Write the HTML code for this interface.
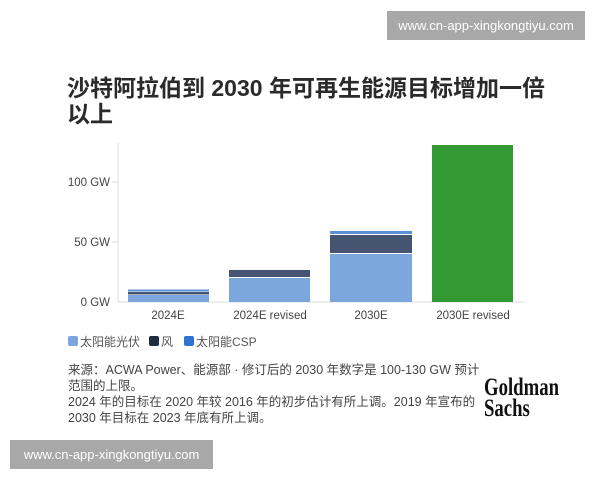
<!DOCTYPE html>
<html><head><meta charset="utf-8"><style>
body{margin:0;width:600px;height:480px;background:#fff;position:relative;overflow:hidden;font-family:"Liberation Sans","Noto Sans CJK SC",sans-serif;color:#333}
.wm{position:absolute;background:#a8a8a8;color:#fff;font-size:13px;display:flex;align-items:center;justify-content:center}
.t{position:absolute;left:67px;top:75px;font-size:23px;font-weight:bold;line-height:26px;color:#2a2a2a;white-space:nowrap}
.note{position:absolute;left:68px;top:362px;font-size:12.5px;line-height:16px;color:#444;white-space:nowrap}
.gs{position:absolute;left:484px;top:377px;font-family:"Liberation Serif",serif;font-weight:bold;font-size:25px;line-height:21px;transform:scaleX(0.75);transform-origin:left;color:#111}
</style></head><body>
<div class="wm" style="left:387px;top:11px;width:198px;height:29px">www.cn-app-xingkongtiyu.com</div>
<div class="t">沙特阿拉伯到 2030 年可再生能源目标增加一倍<br>以上</div>
<svg style="position:absolute;left:0;top:0" width="600" height="360" font-family="Liberation Sans, Noto Sans CJK SC, sans-serif">
<line x1="118" y1="143" x2="118" y2="302" stroke="#ddd"/>
<line x1="118" y1="302" x2="525" y2="302" stroke="#ddd"/>
<g font-size="11.5" fill="#444" text-anchor="end">
<text x="110" y="186">100 GW</text><text x="110" y="246">50 GW</text><text x="110" y="306">0 GW</text></g>
<g stroke="#ddd"><line x1="112" y1="182" x2="118" y2="182"/><line x1="112" y1="242" x2="118" y2="242"/></g>
<rect x="128" y="295" width="81" height="7" fill="#7ba7dd"/>
<rect x="128" y="292" width="81" height="2.5" fill="#455470"/>
<rect x="128" y="289.5" width="81" height="2" fill="#5b8fd6"/>
<rect x="229" y="278" width="81" height="24" fill="#7ba7dd"/>
<rect x="229" y="270" width="81" height="7" fill="#455470"/>
<rect x="330" y="254" width="82" height="48" fill="#7ba7dd"/>
<rect x="330" y="235" width="82" height="18" fill="#455470"/>
<rect x="330" y="231" width="82" height="3" fill="#5b8fd6"/>
<rect x="432" y="145" width="81" height="157" fill="#339933"/>
<g font-size="11.5" fill="#444" text-anchor="middle">
<text x="168" y="319">2024E</text><text x="270" y="319">2024E revised</text><text x="371" y="319">2030E</text><text x="473" y="319">2030E revised</text></g>
<g font-size="12" fill="#555">
<rect x="68" y="336" width="10" height="10" rx="2" fill="#7ba7dd"/><text x="80" y="346">太阳能光伏</text>
<rect x="149" y="336" width="10" height="10" rx="2" fill="#1f2d42"/><text x="161" y="346">风</text>
<rect x="184" y="336" width="10" height="10" rx="2" fill="#2f72cf"/><text x="196" y="346">太阳能CSP</text></g>
</svg>
<div class="note">来源：ACWA Power、能源部 · 修订后的 2030 年数字是 100-130 GW 预计<br>范围的上限。<br>2024 年的目标在 2020 年较 2016 年的初步估计有所上调。2019 年宣布的<br>2030 年目标在 2023 年底有所上调。</div>
<div class="gs">Goldman<br>Sachs</div>
<div class="wm" style="left:10px;top:440px;width:203px;height:29px">www.cn-app-xingkongtiyu.com</div>
</body></html>
